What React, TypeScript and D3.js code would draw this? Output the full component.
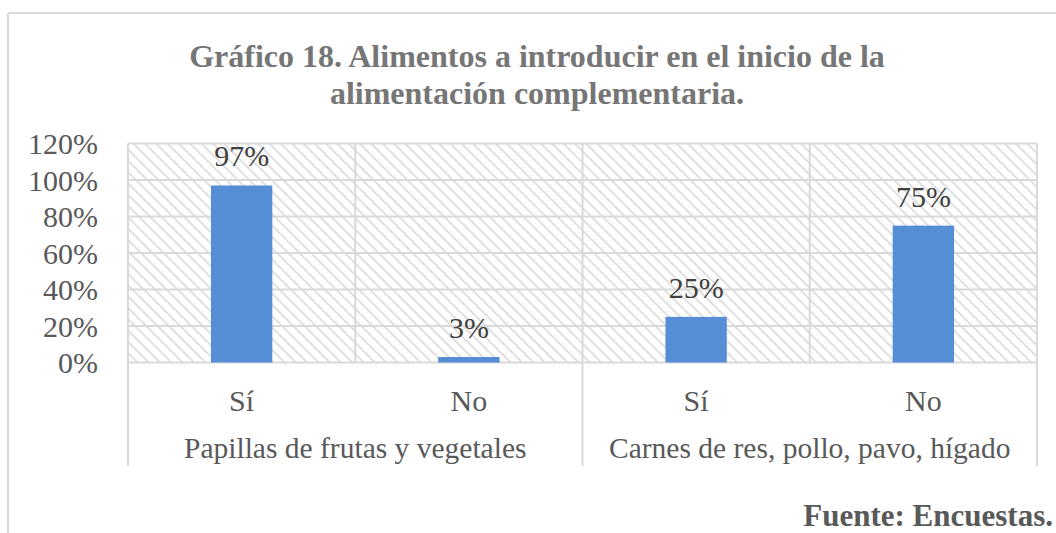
import React from "react";
import * as d3 from "d3";

const groups = ["Papillas de frutas y vegetales", "Carnes de res, pollo, pavo, hígado"];
const subcats = ["Sí", "No"];
const values = [
  [0.97, 0.03],
  [0.25, 0.75],
];
const yTicks = [0, 0.2, 0.4, 0.6, 0.8, 1.0, 1.2];
const title1 = "Gráfico 18. Alimentos a introducir en el inicio de la";
const title2 = "alimentación complementaria.";
const source = "Fuente: Encuestas.";

const W = 1056;
const H = 533;
const plot = { left: 128, right: 1037, top: 143.5, bottom: 362.5 };
const serif = "Liberation Serif";

export default function App() {
  const items = groups.flatMap((g, gi) =>
    subcats.map((s, si) => ({ key: `${gi}-${si}`, group: g, gi, sub: s, value: values[gi][si] }))
  );
  const x = d3.scaleBand<string>().domain(items.map((d) => d.key)).range([plot.left, plot.right]).padding(0);
  const y = d3.scaleLinear().domain([0, 1.2]).range([plot.bottom, plot.top]);
  const bw = x.bandwidth();
  const barW = bw * 0.27;
  const fmt = d3.format(".0%");
  const groupEdges = d3.range(groups.length + 1).map((i) => plot.left + i * bw * subcats.length);

  return (
    <svg width={W} height={H} style={{ position: "absolute", left: 0, top: 0, background: "#fff" }}>
      <defs>
        <pattern id="hatch" width="8" height="8" patternUnits="userSpaceOnUse" patternTransform="rotate(-45)">
          <rect width="8" height="8" fill="#ffffff" />
          <line x1="0" y1="0" x2="0" y2="8" stroke="#dcdcdc" strokeWidth="3.5" />
        </pattern>
      </defs>
      {/* outer chart border */}
      <line x1={8} y1={13} x2={W} y2={13} stroke="#d9d9d9" strokeWidth={2} />
      <line x1={8} y1={13} x2={8} y2={H} stroke="#d9d9d9" strokeWidth={2} />

      {/* title */}
      <text x={537} y={67} textAnchor="middle" fontFamily={serif} fontWeight="bold" fontSize={32} fill="#767676">
        {title1}
      </text>
      <text x={537} y={104} textAnchor="middle" fontFamily={serif} fontWeight="bold" fontSize={32} fill="#767676">
        {title2}
      </text>

      {/* plot area hatch */}
      <rect x={plot.left} y={plot.top} width={plot.right - plot.left} height={plot.bottom - plot.top} fill="url(#hatch)" />

      {/* gridlines */}
      {yTicks.map((t) => (
        <line key={t} x1={plot.left} x2={plot.right} y1={y(t)} y2={y(t)} stroke="#d9d9d9" strokeWidth={2} />
      ))}
      {items.map((d, i) => (
        <line key={"v" + i} x1={x(d.key)!} x2={x(d.key)!} y1={plot.top} y2={plot.bottom} stroke="#d9d9d9" strokeWidth={2} />
      ))}
      <line x1={plot.right} x2={plot.right} y1={plot.top} y2={plot.bottom} stroke="#d9d9d9" strokeWidth={2} />
      {groupEdges.map((gx, i) => (
        <line key={"g" + i} x1={gx} x2={gx} y1={plot.bottom} y2={466} stroke="#d9d9d9" strokeWidth={2} />
      ))}

      {/* y tick labels */}
      {yTicks.map((t) => (
        <text key={"t" + t} x={98} y={y(t)} dy="0.35em" textAnchor="end" fontFamily={serif} fontSize={30} fill="#595959">
          {fmt(t)}
        </text>
      ))}

      {/* bars */}
      {items.map((d) => {
        const cx = x(d.key)! + bw / 2;
        return (
          <g key={"b" + d.key}>
            <rect x={cx - barW / 2} y={y(d.value)} width={barW} height={y(0) - y(d.value)} fill="#558ed5" />
            <text x={cx} y={y(d.value) - 19} textAnchor="middle" fontFamily={serif} fontSize={30} fill="#404040">
              {fmt(d.value)}
            </text>
            <text x={cx} y={411} textAnchor="middle" fontFamily={serif} fontSize={30} fill="#595959">
              {d.sub}
            </text>
          </g>
        );
      })}

      {/* group labels */}
      {groups.map((g, gi) => (
        <text key={"gl" + gi} x={(groupEdges[gi] + groupEdges[gi + 1]) / 2} y={458} textAnchor="middle" fontFamily={serif} fontSize={29.5} fill="#595959">
          {g}
        </text>
      ))}

      {/* source */}
      <text x={1053} y={526} textAnchor="end" fontFamily={serif} fontWeight="bold" fontSize={31} fill="#595959">
        {source}
      </text>
    </svg>
  );
}
